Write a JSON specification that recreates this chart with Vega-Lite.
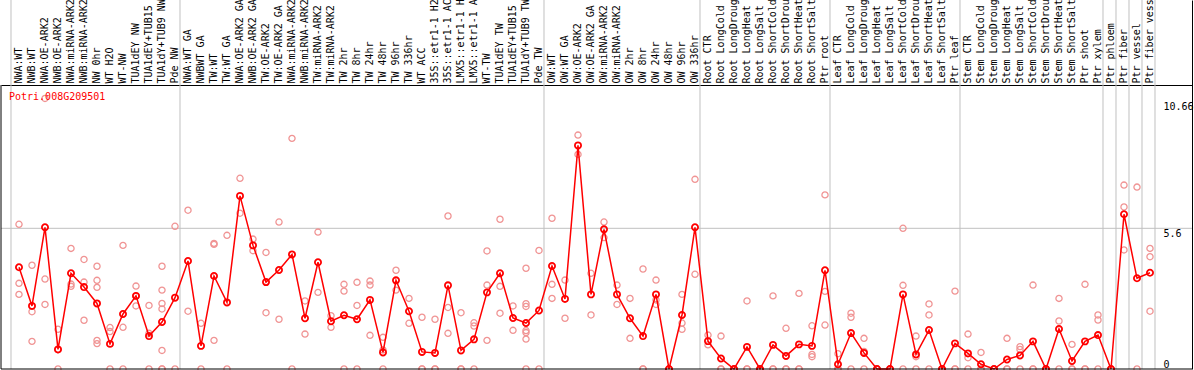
{
  "$schema": "https://vega.github.io/schema/vega-lite/v6.json",
  "autosize": "none",
  "width": 1191,
  "height": 369,
  "padding": {"left": 1, "top": 0, "right": 2, "bottom": 1},
  "background": "white",
  "config": {
    "view": {"stroke": null},
    "font": "DejaVu Sans Mono",
    "axis": {"labelOverlap": false, "labelFlush": false, "labelBound": false, "ticks": false, "tickSize": 0, "grid": false, "title": null}
  },
  "datasets": {
    "means": [
      {"i":0,"v":4.05},{"i":1,"v":2.51},{"i":2,"v":5.64},{"i":3,"v":0.78},{"i":4,"v":3.81},{"i":5,"v":3.26},{"i":6,"v":2.61},{"i":7,"v":1.0},{"i":8,"v":2.19},{"i":9,"v":2.91},
      {"i":10,"v":1.31},{"i":11,"v":1.87},{"i":12,"v":2.84},{"i":13,"v":4.3},{"i":14,"v":0.92},{"i":15,"v":3.7},{"i":16,"v":2.65},{"i":17,"v":6.89},{"i":18,"v":4.92},{"i":19,"v":3.46},
      {"i":20,"v":3.94},{"i":21,"v":4.56},{"i":22,"v":2.02},{"i":23,"v":4.25},{"i":24,"v":1.9},{"i":25,"v":2.14},{"i":26,"v":1.98},{"i":27,"v":2.75},{"i":28,"v":0.66},{"i":29,"v":3.53},
      {"i":30,"v":2.3},{"i":31,"v":0.68},{"i":32,"v":0.64},{"i":33,"v":3.33},{"i":34,"v":0.74},{"i":35,"v":1.18},{"i":36,"v":3.05},{"i":37,"v":3.81},{"i":38,"v":2.03},{"i":39,"v":1.83},
      {"i":40,"v":2.33},{"i":41,"v":4.1},{"i":42,"v":2.79},{"i":43,"v":8.9},{"i":44,"v":2.97},{"i":45,"v":5.56},{"i":46,"v":2.97},{"i":47,"v":2.02},{"i":48,"v":1.31},{"i":49,"v":2.97},
      {"i":50,"v":0},{"i":51,"v":2.15},{"i":52,"v":5.64},{"i":53,"v":1.11},{"i":54,"v":0.42},{"i":55,"v":0},{"i":56,"v":0.88},{"i":57,"v":0},{"i":58,"v":0.96},{"i":59,"v":0.52},
      {"i":60,"v":0.98},{"i":61,"v":0.92},{"i":62,"v":3.93},{"i":63,"v":0.19},{"i":64,"v":1.43},{"i":65,"v":0.64},{"i":66,"v":0},{"i":67,"v":0},{"i":68,"v":2.97},{"i":69,"v":0.58},
      {"i":70,"v":1.55},{"i":71,"v":0},{"i":72,"v":1.02},{"i":73,"v":0.62},{"i":74,"v":0.19},{"i":75,"v":0},{"i":76,"v":0.38},{"i":77,"v":0.54},{"i":78,"v":1.1},{"i":79,"v":0},
      {"i":80,"v":1.59},{"i":81,"v":0.32},{"i":82,"v":1.1},{"i":83,"v":1.35},{"i":84,"v":0},{"i":85,"v":6.16},{"i":86,"v":3.61},{"i":87,"v":3.83}
    ],
    "reps": [
      {"i":0,"v":5.76},{"i":0,"v":3.41},{"i":0,"v":2.97},
      {"i":1,"v":4.13},{"i":1,"v":2.28},{"i":1,"v":1.1},
      {"i":2,"v":10.77},{"i":2,"v":3.58},{"i":2,"v":2.57},
      {"i":3,"v":1.58},{"i":3,"v":0.77},{"i":3,"v":0},
      {"i":4,"v":4.8},{"i":4,"v":3.38},{"i":4,"v":3.29},
      {"i":5,"v":4.36},{"i":5,"v":3.46},{"i":5,"v":1.94},
      {"i":6,"v":4.09},{"i":6,"v":3.53},{"i":6,"v":3.25},{"i":6,"v":1.14},{"i":6,"v":1.01},
      {"i":7,"v":1.65},{"i":7,"v":1.49},{"i":7,"v":0},
      {"i":8,"v":4.92},{"i":8,"v":1.66},{"i":8,"v":0},
      {"i":9,"v":3.3},{"i":9,"v":2.51},{"i":9,"v":2.91},
      {"i":10,"v":2.53},{"i":10,"v":1.42},{"i":10,"v":0},
      {"i":11,"v":4.09},{"i":11,"v":3.14},{"i":11,"v":2.61},{"i":11,"v":2.39},{"i":11,"v":0.74},{"i":11,"v":0},{"i":11,"v":0},
      {"i":12,"v":5.68},{"i":12,"v":0},
      {"i":13,"v":6.32},{"i":13,"v":2.3},
      {"i":14,"v":1.82},{"i":14,"v":0},
      {"i":15,"v":5.0},{"i":15,"v":4.96},{"i":15,"v":1.14},
      {"i":16,"v":5.32},{"i":16,"v":0},
      {"i":17,"v":7.59},{"i":17,"v":6.2},
      {"i":18,"v":5.17},{"i":18,"v":4.71},
      {"i":19,"v":4.64},{"i":19,"v":2.24},
      {"i":20,"v":5.85},{"i":20,"v":1.98},
      {"i":21,"v":9.18},{"i":21,"v":0},
      {"i":22,"v":2.71},{"i":22,"v":1.39},
      {"i":23,"v":5.45},{"i":23,"v":3.05},
      {"i":24,"v":2.12},{"i":24,"v":1.66},
      {"i":25,"v":3.37},{"i":25,"v":3.1},{"i":25,"v":0},
      {"i":26,"v":3.45},{"i":26,"v":2.53},{"i":26,"v":0},
      {"i":27,"v":3.5},{"i":27,"v":3.34},{"i":27,"v":1.34},
      {"i":28,"v":1.26},{"i":28,"v":0.76},{"i":28,"v":0},
      {"i":29,"v":3.93},{"i":29,"v":3.14},
      {"i":30,"v":2.81},{"i":30,"v":1.82},
      {"i":31,"v":2.06},{"i":31,"v":0},{"i":31,"v":0},
      {"i":32,"v":1.98},{"i":32,"v":0},{"i":32,"v":0},
      {"i":33,"v":6.09},{"i":33,"v":2.45},{"i":33,"v":1.42},
      {"i":34,"v":2.24},{"i":34,"v":0},{"i":34,"v":0},
      {"i":35,"v":1.84},{"i":35,"v":1.71},{"i":35,"v":0},
      {"i":36,"v":4.7},{"i":36,"v":3.34},{"i":36,"v":1.14},
      {"i":37,"v":5.96},{"i":37,"v":3.29},{"i":37,"v":2.22},
      {"i":38,"v":2.51},{"i":38,"v":1.54},
      {"i":39,"v":4.01},{"i":39,"v":2.6},{"i":39,"v":2.49},{"i":39,"v":1.53},{"i":39,"v":1.45},{"i":39,"v":1.19},{"i":39,"v":0},
      {"i":40,"v":4.72},{"i":40,"v":0},
      {"i":41,"v":6.0},{"i":41,"v":3.37},{"i":41,"v":2.81},
      {"i":42,"v":3.54},{"i":42,"v":2.02},
      {"i":43,"v":9.31},{"i":43,"v":8.54},
      {"i":44,"v":3.81},{"i":44,"v":2.15},
      {"i":45,"v":5.85},{"i":45,"v":5.23},
      {"i":46,"v":3.34},{"i":46,"v":2.57},
      {"i":47,"v":2.81},{"i":47,"v":1.22},
      {"i":48,"v":3.98},{"i":48,"v":0},{"i":48,"v":0},
      {"i":49,"v":3.54},{"i":49,"v":2.75},{"i":49,"v":2.57},
      {"i":50,"v":0},{"i":50,"v":0},
      {"i":51,"v":2.97},{"i":51,"v":1.83},{"i":51,"v":1.58},
      {"i":52,"v":7.55},{"i":52,"v":3.77},
      {"i":53,"v":1.35},{"i":53,"v":0.96},
      {"i":54,"v":1.31},{"i":54,"v":0},{"i":54,"v":0},
      {"i":55,"v":0},{"i":55,"v":0},
      {"i":56,"v":2.71},{"i":56,"v":0},{"i":56,"v":0},
      {"i":57,"v":0},{"i":57,"v":0},
      {"i":58,"v":2.91},{"i":58,"v":0},{"i":58,"v":0},
      {"i":59,"v":1.62},{"i":59,"v":0},{"i":59,"v":0},
      {"i":60,"v":3.01},{"i":60,"v":0},{"i":60,"v":0},
      {"i":61,"v":1.72},{"i":61,"v":0.58},{"i":61,"v":0.49},
      {"i":62,"v":6.93},{"i":62,"v":3.09},{"i":62,"v":1.75},
      {"i":63,"v":0.61},{"i":63,"v":0},{"i":63,"v":0},
      {"i":64,"v":2.22},{"i":64,"v":2.06},{"i":64,"v":0},
      {"i":65,"v":1.22},{"i":65,"v":0.7},{"i":65,"v":0},
      {"i":66,"v":0},{"i":66,"v":0},
      {"i":67,"v":0},{"i":67,"v":0},
      {"i":68,"v":5.6},{"i":68,"v":3.33},{"i":68,"v":0},
      {"i":69,"v":1.31},{"i":69,"v":0.49},{"i":69,"v":0},
      {"i":70,"v":2.59},{"i":70,"v":2.15},{"i":70,"v":0},
      {"i":71,"v":0},{"i":71,"v":0},
      {"i":72,"v":3.1},{"i":72,"v":0},{"i":72,"v":0},
      {"i":73,"v":1.39},{"i":73,"v":0.45},{"i":73,"v":0},
      {"i":74,"v":0.66},{"i":74,"v":0},{"i":74,"v":0},
      {"i":75,"v":0},{"i":75,"v":0},
      {"i":76,"v":1.22},{"i":76,"v":0},{"i":76,"v":0},
      {"i":77,"v":0.89},{"i":77,"v":0.78},{"i":77,"v":0},
      {"i":78,"v":3.34},{"i":78,"v":0},{"i":78,"v":0},
      {"i":79,"v":0},{"i":79,"v":0},
      {"i":80,"v":2.81},{"i":80,"v":1.91},{"i":80,"v":0},
      {"i":81,"v":0.98},{"i":81,"v":0},{"i":81,"v":0},
      {"i":82,"v":3.37},{"i":82,"v":0},{"i":82,"v":0},
      {"i":83,"v":2.15},{"i":83,"v":1.95},{"i":83,"v":0},
      {"i":84,"v":0},{"i":84,"v":0},
      {"i":85,"v":7.32},{"i":85,"v":6.45},{"i":85,"v":4.74},
      {"i":86,"v":7.24},{"i":86,"v":0},
      {"i":87,"v":4.8},{"i":87,"v":4.47},{"i":87,"v":2.3}
    ],
    "seps": [
      {"after":-1},{"after":12},{"after":40},{"after":52},{"after":62},{"after":72},{"after":83},{"after":84},{"after":85},{"after":86},{"after":87}
    ],
    "gene": [{"name":"Potri.008G209501"}],
    "one": [{}]
  },
  "layer": [
    {
      "data": {"name": "seps"},
      "mark": {"type": "rule", "color": "#c0c0c0", "strokeWidth": 1, "xOffset": 5},
      "encoding": {
        "x": {"field": "after", "type": "quantitative", "title": null,
              "scale": {"domain": [-1.3846, 90.2308], "nice": false, "zero": false}}
      }
    },
    {
      "data": {"name": "one"},
      "mark": {"type": "rule", "color": "#c0c0c0", "strokeWidth": 1},
      "encoding": {
        "y": {"datum": 5.6, "type": "quantitative", "title": null,
              "scale": {"domain": [0, 14.687], "nice": false, "zero": false}}
      }
    },
    {
      "data": {"name": "reps"},
      "mark": {"type": "point", "shape": "circle", "filled": false, "color": "#f09494", "strokeWidth": 1.3, "size": 38, "opacity": 1},
      "encoding": {
        "x": {"field": "i", "type": "quantitative", "title": null,
              "scale": {"domain": [-1.3846, 90.2308], "nice": false, "zero": false},
              "axis": {
                "orient": "top", "offset": -85, "tickCount": 200,
                "values": [0,1,2,3,4,5,6,7,8,9,10,11,12,13,14,15,16,17,18,19,20,21,22,23,24,25,26,27,28,29,30,31,32,33,34,35,36,37,38,39,40,41,42,43,44,45,46,47,48,49,50,51,52,53,54,55,56,57,58,59,60,61,62,63,64,65,66,67,68,69,70,71,72,73,74,75,76,77,78,79,80,81,82,83,84,85,86,87],
                "labelExpr": "['NWA:WT','NWB:WT','NWA:OE-ARK2','NWB:OE-ARK2','NWA:miRNA-ARK2','NWB:miRNA-ARK2','NW 0hr','WT H2O','WT-NW','TUA1dEY NW','TUA1dEY+TUB15 NW','TUA1dY+TUB9 NW','Pde NW','NWA:WT GA','NWBWT GA','TW:WT','TW:WT GA','NWA:OE-ARK2 GA','NWB:OE-ARK2 GA','TW:OE-ARK2','TW:OE-ARK2 GA','NWA:miRNA-ARK2 GA','NWB:miRNA-ARK2 GA','TW:miRNA-ARK2','TW:miRNA-ARK2 GA','TW 2hr','TW 8hr','TW 24hr','TW 48hr','TW 96hr','TW 336hr','WT ACC','35S::etr1-1 H2O','35S::etr1-1 ACC','LMX5::etr1-1 H2O','LMX5::etr1-1 ACC','WT-TW','TUA1dEY TW','TUA1dEY+TUB15 TW','TUA1dY+TUB9 TW','Pde TW','OW:WT','OW:WT GA','OW:OE-ARK2','OW:OE-ARK2 GA','OW:miRNA-ARK2','OW:miRNA-ARK2 GA','OW 2hr','OW 8hr','OW 24hr','OW 48hr','OW 96hr','OW 336hr','Root CTR','Root LongCold','Root LongDrought','Root LongHeat','Root LongSalt','Root ShortCold','Root ShortDrought','Root ShortHeat','Root ShortSalt','Ptr root','Leaf CTR','Leaf LongCold','Leaf LongDrought','Leaf LongHeat','Leaf LongSalt','Leaf ShortCold','Leaf ShortDrought','Leaf ShortHeat','Leaf ShortSalt','Ptr leaf','Stem CTR','Stem LongCold','Stem LongDrought','Stem LongHeat','Stem LongSalt','Stem ShortCold','Stem ShortDrought','Stem ShortHeat','Stem ShortSalt','Ptr shoot','Ptr xylem','Ptr phloem','Ptr fiber','Ptr vessel','Ptr fiber vessel'][datum.value]",
                "labelAngle": 270, "labelAlign": "left", "labelBaseline": "middle", "labelPadding": 2,
                "labelFont": "DejaVu Sans Mono", "labelFontSize": 10, "labelColor": "#000000",
                "labelOverlap": false, "labelFlush": false, "labelBound": false, "labelLimit": 0,
                "ticks": false, "tickSize": 0, "grid": false,
                "domain": true, "domainColor": "#000000", "domainWidth": 1
              }},
        "y": {"field": "v", "type": "quantitative", "title": null,
              "scale": {"domain": [0, 14.687], "nice": false, "zero": false},
              "axis": {
                "orient": "right", "values": [0, 5.6, 10.66], "tickCount": 20,
                "labelExpr": "'' + datum.value",
                "labelAlign": "left",
                "labelBaseline": {"condition": {"test": "datum.value === 0", "value": "bottom"}, "value": "top"},
                "labelPadding": -29,
                "labelFont": "DejaVu Sans Mono", "labelFontSize": 10, "labelColor": "#000000",
                "labelOverlap": false, "labelFlush": false, "labelBound": false,
                "ticks": false, "tickSize": 0, "grid": false,
                "domain": true, "domainColor": "#000000", "domainWidth": 1
              }}
      }
    },
    {
      "data": {"name": "means"},
      "mark": {"type": "line", "color": "#ff0000", "strokeWidth": 1.5},
      "encoding": {
        "x": {"field": "i", "type": "quantitative", "title": null,
              "scale": {"domain": [-1.3846, 90.2308], "nice": false, "zero": false}},
        "y": {"field": "v", "type": "quantitative", "title": null,
              "scale": {"domain": [0, 14.687], "nice": false, "zero": false}}
      }
    },
    {
      "data": {"name": "means"},
      "mark": {"type": "point", "shape": "circle", "filled": false, "color": "#ff0000", "strokeWidth": 1.8, "size": 38, "opacity": 1},
      "encoding": {
        "x": {"field": "i", "type": "quantitative", "title": null,
              "scale": {"domain": [-1.3846, 90.2308], "nice": false, "zero": false}},
        "y": {"field": "v", "type": "quantitative", "title": null,
              "scale": {"domain": [0, 14.687], "nice": false, "zero": false}}
      }
    },
    {
      "data": {"name": "gene"},
      "mark": {"type": "text", "color": "#ff0000", "font": "DejaVu Sans Mono", "fontSize": 10, "align": "left", "baseline": "middle", "dx": -10},
      "encoding": {
        "text": {"field": "name"},
        "x": {"datum": 0, "type": "quantitative", "title": null},
        "y": {"datum": 10.83, "type": "quantitative", "title": null}
      }
    },
    {
      "data": {"name": "one"},
      "mark": {"type": "rule", "color": "#000000", "strokeWidth": 1},
      "encoding": {
        "y": {"datum": 0, "type": "quantitative", "title": null}
      }
    },
    {
      "data": {"name": "one"},
      "mark": {"type": "rule", "color": "#000000", "strokeWidth": 1},
      "encoding": {
        "x": {"datum": -1.3846, "type": "quantitative", "title": null},
        "y": {"datum": 0, "type": "quantitative", "title": null},
        "y2": {"datum": 11.3}
      }
    }
  ]
}
